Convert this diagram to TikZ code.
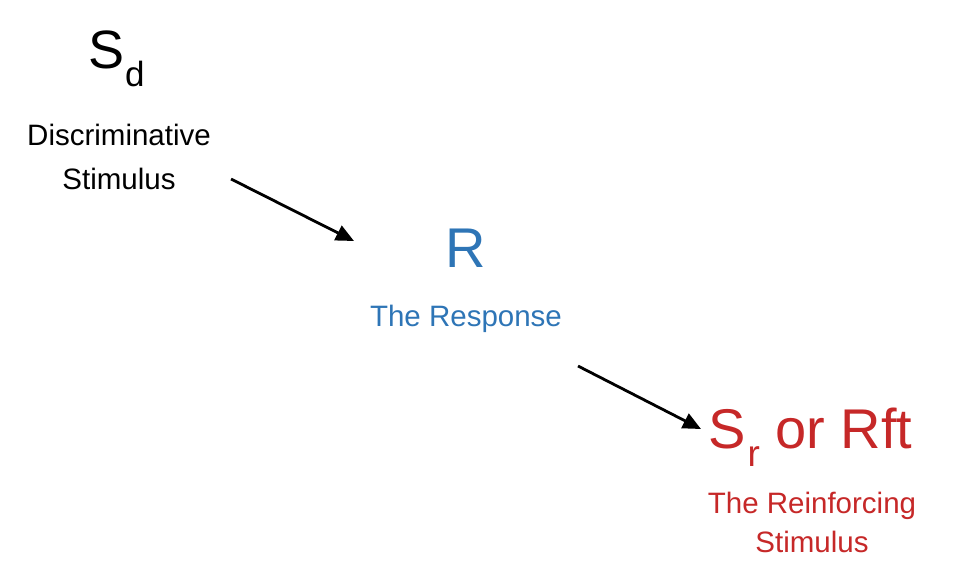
\documentclass[tikz,border=0pt]{standalone}
\usepackage{fontspec}
\setmainfont{Liberation Sans}
\usetikzlibrary{arrows.meta}
\definecolor{respblue}{RGB}{46,117,182}
\definecolor{reinfred}{RGB}{198,40,40}
\tikzset{
  lbl/.style={inner sep=0pt, anchor=base, align=center},
  conn/.style={line width=2.8pt, -{Triangle[length=18pt,width=16pt]}}
}
\begin{document}
\begin{tikzpicture}[x=1pt,y=-1pt]
\useasboundingbox (0,0) rectangle (954,574);
% Discriminative stimulus
\node[inner sep=0pt, anchor=base west] (sd) at (88,68)
  {\fontsize{54}{54}\selectfont S\hspace{1pt}\raisebox{-18pt}{\fontsize{35}{35}\selectfont d}};
\node[lbl] (sdl1) at (119,145) {\fontsize{29.5}{29.5}\selectfont Discriminative};
\node[lbl] (sdl2) at (119,189) {\fontsize{29.5}{29.5}\selectfont Stimulus};
% Response
\node[lbl, text=respblue] (r) at (466,267) {\fontsize{56}{56}\selectfont R};
\node[lbl, text=respblue] (rl) at (466,326) {\fontsize{29.5}{29.5}\selectfont The Response};
% Reinforcing stimulus
\node[inner sep=0pt, anchor=base west, text=reinfred] (sr) at (708,448)
  {\fontsize{56}{56}\selectfont S\hspace{2pt}\raisebox{-18pt}{\fontsize{37}{37}\selectfont r} or Rft};
\node[lbl, text=reinfred] (srl1) at (812,513) {\fontsize{29.5}{29.5}\selectfont The Reinforcing};
\node[lbl, text=reinfred] (srl2) at (812,552) {\fontsize{29.5}{29.5}\selectfont Stimulus};
% connectors
\coordinate (a1s) at (231,179);
\coordinate (a1e) at (354,241);
\coordinate (a2s) at (578,366);
\coordinate (a2e) at (701,429);
\draw[conn] (a1s) -- (a1e);
\draw[conn] (a2s) -- (a2e);
\end{tikzpicture}
\end{document}
